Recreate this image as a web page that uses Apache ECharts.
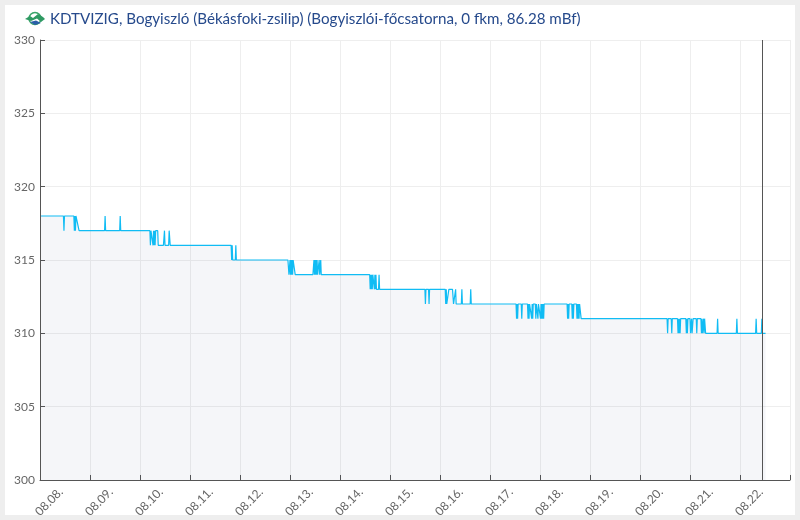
<!DOCTYPE html>
<html><head><meta charset="utf-8">
<style>html,body{margin:0;padding:0;background:#eeeeee;}#c{width:800px;height:520px;}</style>
<script src="https://cdn.jsdelivr.net/npm/echarts@6/dist/echarts.min.js"></script>
</head><body><div id="c"></div>
<script>
const titleText = 'KDTVIZIG, Bogyiszló (Békásfoki-zsilip) (Bogyiszlói-főcsatorna, 0 fkm, 86.28 mBf)';
const dayLabels = ['08.08.','08.09.','08.10.','08.11.','08.12.','08.13.','08.14.','08.15.','08.16.','08.17.','08.18.','08.19.','08.20.','08.21.','08.22.',''];
const yTicks = [300,305,310,315,320,325,330];
// [hours since 08.08. 00:00, water level]
const stage318 = [[0.5,318],[11.25,318],[11.5,317],[11.75,318],[16.25,318],[16.5,317],[16.75,318],[17,317],[17.25,318],[18,318],[18.75,317]];
const stage317 = [[31,317],[31.25,318],[31.5,317],[38.25,317],[38.5,318],[38.75,317],[52.75,317],[53,316],[53.25,317],[54,317],[54.25,316],[54.5,317],[54.75,316],[55,317],[55.25,316],[55.5,317],[56.5,317],[56.75,316]];
const stage316 = [[59.25,316],[59.75,317],[60,316],[61.75,316],[62,317],[62.5,316],[91.75,316],[92,315],[92.25,316],[92.5,315]];
const stage315 = [[93.75,315],[94,316],[94.25,315],[119,315],[119.5,314],[120,315],[120.25,314],[120.5,315],[120.75,314],[121,315],[121.25,314],[121.5,315],[122.25,315],[122.5,314]];
const stage314 = [[131,314],[131.5,315],[131.75,314],[132,315],[132.25,314],[132.5,315],[132.75,314],[133,315],[133.25,314],[133.75,314],[134,315],[134.25,314],[134.5,314],[134.75,315],[135,314],[158.25,314],[158.5,313],[158.75,314],[159,313],[159.25,314],[159.5,313],[159.75,314],[160.25,314],[160.5,313],[160.75,314],[161,313],[161.25,314],[161.5,313]];
const stage313 = [[162.5,313],[162.75,314],[163,313],[184.75,313],[185,312],[185.25,313],[186.5,313],[186.75,312],[187,313],[194.5,313],[194.75,312],[195,313],[195.25,312],[196,312],[196.25,313],[198,313],[198.5,312]];
const stage312 = [[199.25,312],[199.5,313],[199.75,312],[202.25,312],[202.5,313],[202.75,312],[206.5,312],[206.75,313],[207,312],[228.5,312],[228.75,311],[229,312],[229.25,311],[229.5,312],[231,312],[231.25,311],[231.5,312],[234,312],[234.25,311],[234.5,312],[234.75,311],[235,312],[235.75,312],[236,311],[236.25,312],[236.5,311],[236.75,312],[237.75,312],[238,311],[238.25,312],[238.75,312],[239,311],[239.25,312],[240,312],[240.25,311],[240.5,312],[240.75,311],[241,312],[241.25,311],[241.5,312],[241.75,311],[242,312],[253,312],[253.25,311],[253.5,312],[253.75,311],[254,312],[255.25,312],[255.5,311],[255.75,312],[256,311],[256.25,312],[257.5,312],[257.75,311],[258,312],[258.25,311],[258.5,312],[258.75,311],[259,312],[259.5,312],[259.75,311]];
const stage311 = [[301,311],[301.25,310],[301.5,311],[303,311],[303.25,310],[303.5,311],[306,311],[306.25,310],[306.5,311],[306.75,310],[307,311],[307.25,310],[307.5,311],[310,311],[310.25,310],[310.5,311],[310.75,310],[311,311],[312,311],[312.25,310],[312.75,311],[313,310],[313.5,311],[315,311],[315.25,310],[315.5,311],[317.25,311],[317.5,310],[317.75,311],[318,310],[318.5,311],[318.75,310],[319,311],[319.5,310]];
const stage310 = [[325,310],[325.25,311],[325.5,310],[334.25,310],[334.5,311],[334.75,310],[343.5,310],[343.75,311],[344,310],[346.25,310],[346.5,311],[346.75,310],[348.25,310]];
const currentHour = 346.7;

const readings = [].concat(stage318,stage317,stage316,stage315,stage314,stage313,stage312,stage311,stage310);
const chart = echarts.init(document.getElementById('c'),null,{renderer:'canvas'});
chart.setOption({
  animation:false,
  backgroundColor:'#eeeeee',
  textStyle:{fontFamily:'Lato'},
  title:{text:titleText,left:50,top:12,padding:0,textStyle:{fontFamily:'Lato',fontSize:15.15,fontWeight:'normal',color:'#264a8c'}},
  grid:{left:40,right:10,top:40,bottom:40,containLabel:false},
  graphic:[
    {type:'rect',z:-10,silent:true,shape:{x:5,y:5,width:790,height:510},style:{fill:'#ffffff'}},
    {type:'circle',shape:{cx:35,cy:18.5,r:6},style:{fill:'#ffffff',stroke:'#3aa56a',lineWidth:1.5}},
    {type:'polygon',shape:{points:[[25,19],[30,16],[33,18],[38,14],[43,17],[45,19],[41,22],[37,18.5],[31,21]]},style:{fill:'#2f9a63'}},
    {type:'polygon',shape:{points:[[30,22],[36,20.5],[41,23],[35,25]]},style:{fill:'#2b5fa8'}}
  ],
  xAxis:{type:'value',min:0,max:360,interval:24,
    axisLine:{show:true,onZero:false,lineStyle:{color:'#555555',width:1}},
    axisTick:{show:true,inside:true,length:5,lineStyle:{color:'#555555'}},
    splitLine:{show:true,lineStyle:{color:'#eeeeee',width:1}},
    axisLabel:{rotate:45,align:'center',verticalAlign:'middle',margin:31,padding:[0,0,0,26],color:'#666666',fontFamily:'Lato',fontSize:12,showMinLabel:true,showMaxLabel:true,hideOverlap:false,
      formatter:function(v){return dayLabels[v/24];}}
  },
  yAxis:{type:'value',min:yTicks[0],max:yTicks[yTicks.length-1],interval:5,
    axisLine:{show:true,onZero:false,lineStyle:{color:'#555555',width:1}},
    axisTick:{show:true,inside:true,length:5,lineStyle:{color:'#555555'}},
    splitLine:{show:true,lineStyle:{color:'#eeeeee',width:1}},
    axisLabel:{margin:5,color:'#666666',fontFamily:'Lato',fontSize:12}
  },
  series:[{type:'line',data:readings,showSymbol:false,symbol:'none',clip:true,
    lineStyle:{color:'#10bcf4',width:1.2},
    areaStyle:{color:'rgba(40,60,130,0.065)'},
    markLine:{silent:true,symbol:'none',animation:false,label:{show:false},
      lineStyle:{color:'#555555',width:1,type:'solid'},data:[{xAxis:currentHour}]}
  }]
});
</script></body></html>
